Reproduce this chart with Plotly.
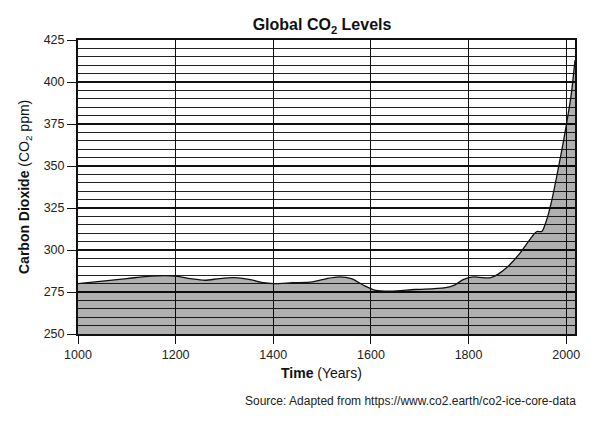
import plotly.graph_objects as go

# CO2 ice-core record
years = [1000, 1050, 1100, 1150, 1200, 1230, 1260, 1290, 1320, 1350, 1380, 1400,
         1440, 1480, 1510, 1535, 1560, 1585, 1610, 1640, 1690, 1750, 1770, 1790,
         1810, 1830, 1845, 1860, 1880, 1905, 1930, 1940, 1950, 1960, 1970, 1980,
         1990, 2000, 2010, 2018]
co2_ppm = [280, 281.5, 283, 284.5, 284.5, 283, 282, 283, 283.5, 282.5, 280.5, 280,
           280.5, 281, 283, 284, 283, 279, 276, 275.5, 276.5, 277.5, 279, 282.5,
           284, 283.5, 283.5, 285.5, 290, 298, 308, 311, 311, 318, 329, 343,
           358, 374, 392, 413]

x_ticks = [1000, 1200, 1400, 1600, 1800, 2000]
y_ticks = [250, 275, 300, 325, 350, 375, 400, 425]

font_name = "Liberation Sans, Arial, sans-serif"

fig = go.Figure()
fig.add_trace(go.Scatter(
    x=years, y=co2_ppm, mode="lines",
    line=dict(color="#111", width=1.3, shape="spline", smoothing=0.8),
    fill="tozeroy", fillcolor="rgba(0,0,0,0.31)",
    showlegend=False, hoverinfo="skip"))

# page body has an 8px margin, so the figure is a little smaller than the window
fig.update_layout(
    width=602, height=420,
    margin=dict(l=70, r=35, t=32, b=94, autoexpand=False),
    paper_bgcolor="white", plot_bgcolor="white",
    font=dict(family=font_name, size=12.5, color="#222"),
    title=dict(text="<b>Global CO<sub>2</sub> Levels</b>", xref="paper", x=0.491,
               xanchor="center", y=0.96, yanchor="middle",
               font=dict(size=16, color="#111")),
    xaxis=dict(range=[1000, 2018], tickvals=x_ticks, ticks="outside", ticklen=8,
               tickcolor="#111", tickwidth=1.3, showgrid=True, gridcolor="#111",
               gridwidth=1.2, showline=True, linecolor="#111", linewidth=2,
               mirror=True, zeroline=False, automargin=False),
    yaxis=dict(range=[250, 425], tickvals=y_ticks, ticks="outside", ticklen=9,
               tickcolor="#111", tickwidth=1.3, showgrid=True, gridcolor="#111",
               gridwidth=1.6,
               minor=dict(dtick=5, showgrid=True, gridcolor="#222", gridwidth=1),
               showline=True, linecolor="#111", linewidth=2, mirror=True,
               zeroline=False, automargin=False),
)

fig.add_annotation(
    text="<b>Time</b> (Years)", xref="paper", yref="paper", x=0.49, y=-0.133,
    xanchor="center", yanchor="middle", showarrow=False,
    font=dict(size=14, color="#111"))
fig.add_annotation(
    text="<b>Carbon Dioxide</b> (CO<sub>2</sub> ppm)", xref="paper", yref="paper",
    x=-0.1066, y=0.5, xanchor="center", yanchor="middle", textangle=-90,
    showarrow=False, font=dict(size=14, color="#111"))
fig.add_annotation(
    text="Source: Adapted from https://www.co2.earth/co2-ice-core-data",
    xref="paper", yref="paper", x=1.006, y=-0.228, xanchor="right", yanchor="middle",
    showarrow=False, font=dict(size=12, color="#222"))

fig.write_html("out.html")
